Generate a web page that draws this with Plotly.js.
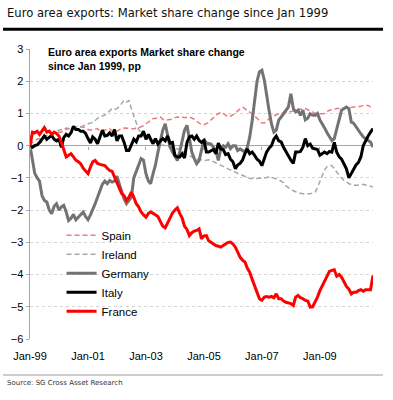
<!DOCTYPE html>
<html>
<head>
<meta charset="utf-8">
<script src="https://cdn.plot.ly/plotly-3.0.1.min.js"></script>
<style>html,body{margin:0;padding:0;background:#fff;}#chart{width:393px;height:400px;}</style>
</head>
<body>
<div id="chart"></div>
<script>
// Monthly observations, Jan 1999 .. Nov 2010 (percentage points)
const startYear = 1999;
const nMonths = 143;
const seriesNames = ["Spain", "Ireland", "Germany", "Italy", "France"];
const tickLabels = ["Jan-99", "Jan-01", "Jan-03", "Jan-05", "Jan-07", "Jan-09"];
const tickDates = ["1999-01-01", "2001-01-01", "2003-01-01", "2005-01-01", "2007-01-01", "2009-01-01"];

const spain = [
  0, 0.1, 0.15, 0.2, 0.22, 0.27, 0.3, 0.32, 0.35, 0.38, 0.4, 0.42,
  0.42, 0.42, 0.5, 0.55, 0.53, 0.55, 0.58, 0.58, 0.6, 0.58, 0.58, 0.55,
  0.5, 0.48, 0.5, 0.52, 0.53, 0.45, 0.45, 0.48, 0.5, 0.53, 0.45, 0.42,
  0.45, 0.5, 0.53, 0.55, 0.55, 0.53, 0.53, 0.52, 0.55, 0.55, 0.58, 0.62,
  0.68, 0.73, 0.78, 0.84, 0.84, 0.88, 0.89, 0.82, 0.79, 0.8, 0.8, 0.82,
  0.87, 0.89, 0.88, 0.89, 0.87, 0.88, 0.89, 0.86, 0.82, 0.75, 0.7, 0.66,
  0.65, 0.68, 0.72, 0.8, 0.89, 0.95, 0.99, 1.04, 1.0, 0.94, 0.89, 0.92,
  0.95, 1.0, 1.08, 1.15, 1.2, 1.15, 1.08, 1.04, 0.99, 0.92, 0.85, 0.79,
  0.7, 0.7, 0.75, 0.84, 0.88, 0.94, 0.96, 0.99, 1.0, 1.0, 1.02, 1.05,
  1.05, 1.08, 1.1, 1.12, 1.15, 1.15, 1.15, 1.12, 1.1, 1.05, 1.0, 0.99,
  0.98, 0.99, 1.0, 1.05, 1.1, 1.12, 1.14, 1.15, 1.15, 1.15, 1.15, 1.17,
  1.18, 1.2, 1.2, 1.2, 1.2, 1.22, 1.25, 1.25, 1.25, 1.2, 1.15
];
const ireland = [
  0, 0.0, 0.02, 0.05, 0.08, 0.1, 0.12, 0.16, 0.25, 0.32, 0.4, 0.45,
  0.48, 0.5, 0.48, 0.5, 0.52, 0.55, 0.55, 0.58, 0.6, 0.58, 0.62, 0.65,
  0.68, 0.7, 0.72, 0.78, 0.85, 0.89, 0.92, 0.95, 1.02, 1.1, 1.15, 1.12,
  1.15, 1.22, 1.3, 1.41, 1.35, 1.4, 1.15, 0.95, 0.7, 0.5, 0.4, 0.3,
  0.22, 0.25, 0.2, 0.22, 0.15, 0.05, 0.0, 0.02, 0.0, -0.02, -0.05, -0.05,
  -0.08, -0.1, -0.1, -0.15, -0.22, -0.28, -0.3, -0.35, -0.38, -0.42, -0.42, -0.45,
  -0.46, -0.45, -0.44, -0.46, -0.5, -0.52, -0.56, -0.6, -0.66, -0.68, -0.72, -0.75,
  -0.8, -0.82, -0.86, -0.9, -0.92, -0.96, -1.0, -1.02, -1.02, -1.0, -1.02, -1.0,
  -1.0, -1.0, -0.98, -0.97, -0.98, -1.0, -1.02, -1.06, -1.1, -1.15, -1.25, -1.3,
  -1.36, -1.4, -1.43, -1.46, -1.48, -1.49, -1.5, -1.49, -1.49, -1.48, -1.45, -1.3,
  -1.1, -0.9, -0.75, -0.65, -0.61, -0.62, -0.72, -0.85, -0.92, -1.0, -1.08, -1.12,
  -1.18, -1.2, -1.23, -1.23, -1.23, -1.22, -1.2, -1.22, -1.23, -1.25, -1.28
];
const germany = [
  0, -0.5, -0.85, -1.0, -1.1, -1.55, -1.7, -1.75, -2.0, -2.11, -1.88, -1.8,
  -2.0, -1.9, -1.85, -2.06, -2.32, -2.25, -2.13, -2.3, -2.22, -2.15, -2.06, -2.2,
  -2.3, -2.15, -2.0, -1.8, -1.6, -1.4, -1.2, -1.1, -1.18, -1.08, -1.13, -1.1,
  -0.95, -1.2, -1.45, -1.65, -1.8, -1.7, -1.6, -1.0, -0.8, -0.6, -0.4, -0.45,
  -0.87, -1.1, -1.18, -0.87, -0.6, -0.2, 0.1, 0.48, 0.68, 0.27, -0.04, -0.2,
  -0.35, -0.46, -0.2, 0.2, 0.48, 0.63, 0.16, -0.2, -0.4, -0.56, -0.46, -0.1,
  0.2, 0.08, 0.06, 0.05, -0.05, -0.15, -0.46, -0.1, 0.0, -0.05, 0.06, -0.09,
  0.0, 0.0, -0.15, -0.1, -0.15, -0.2, -0.05, 0.27, 0.79, 1.41, 2.0, 2.29,
  2.34, 2.03, 1.51, 1.1, 0.68, 0.42, 0.48, 0.79, 0.89, 1.0, 1.1, 1.2,
  1.61, 1.15, 1.05, 1.1, 0.94, 1.1, 0.8, 0.85, 0.99, 0.95, 0.94, 1.0,
  0.8, 0.68, 0.55, 0.4, 0.27, 0.16, 0.22, 0.5, 0.85, 1.1, 1.15, 1.2,
  1.15, 0.73, 0.7, 0.58, 0.45, 0.37, 0.27, 0.2, 0.16, 0.11, -0.04
];
const italy = [
  0, -0.05, 0.0, 0.02, 0.1, 0.22, 0.3, 0.2, 0.27, 0.32, 0.2, 0.15,
  0.2, -0.05, 0.25, 0.35, 0.3, 0.4, 0.6, 0.5, 0.5, 0.45, 0.45, 0.38,
  0.22, 0.08, 0.27, 0.2, 0.06, 0.3, 0.48, 0.3, 0.32, 0.4, 0.3, 0.5,
  0.15, 0.3, 0.3, 0.1, -0.15, -0.15, 0.0, 0.2, 0.12, 0.3, 0.3, 0.45,
  0.2, 0.35, 0.2, 0.06, 0.22, 0.05, 0.15, 0.22, 0.15, 0.3, 0.08, 0.1,
  -0.3, -0.35, -0.35, -0.25, -0.38, 0.1, 0.27, 0.3, 0.2, 0.3, 0.16, 0.1,
  0.16, -0.2, -0.2, -0.15, -0.12, -0.25, 0.08, -0.1, -0.12, -0.28, -0.25, -0.42,
  -0.5, -0.72, -0.6, -0.55, -0.45, -0.25, -0.1, -0.25, -0.2, -0.3, -0.42, -0.48,
  -0.62, -0.4, -0.2, -0.08, 0.0, 0.2, 0.3, 0.15, 0.12, -0.05, -0.2, -0.3,
  -0.45, -0.55, -0.2, -0.2, -0.18, -0.05, 0.22, 0.0, 0.05, -0.08, -0.1, -0.12,
  -0.3, -0.25, -0.2, -0.25, -0.18, -0.2, 0.1, -0.2, -0.35, -0.42, -0.58, -0.72,
  -1.0, -0.85, -0.72, -0.6, -0.52, -0.35, 0.0, 0.16, 0.3, 0.42, 0.53
];
const france = [
  0, 0.42, 0.4, 0.45, 0.35, 0.45, 0.56, 0.42, 0.45, 0.35, 0.42, 0.38,
  0.3, 0.1, -0.1, -0.35, -0.3, -0.25, -0.35, -0.45, -0.5, -0.56, -0.7, -0.8,
  -0.87, -0.66, -0.5, -0.46, -0.55, -0.58, -0.6, -0.62, -0.7, -0.77, -0.8, -0.97,
  -1.18, -1.3, -1.49, -1.55, -1.7, -1.6, -1.44, -1.6, -1.8, -1.9, -2.06, -2.15,
  -2.22, -2.1, -2.06, -2.1, -2.15, -2.2, -2.35, -2.5, -2.55, -2.4, -2.2, -2.09,
  -2.0, -1.93, -2.1, -2.25, -2.5, -2.6, -2.79, -2.7, -2.65, -2.63, -2.58, -2.89,
  -2.8, -2.79, -2.95, -3.0, -3.04, -3.1, -3.12, -3.15, -3.1, -3.04, -3.0, -2.99,
  -3.05, -3.15, -3.3, -3.46, -3.55, -3.61, -3.8, -3.93, -4.15, -4.34, -4.5, -4.75,
  -4.8, -4.7, -4.68, -4.7, -4.68, -4.72, -4.6, -4.75, -4.75, -4.82, -4.86, -4.88,
  -4.9, -4.96, -4.7, -4.65, -4.72, -4.75, -4.8, -4.82, -5.01, -5.0, -4.85, -4.7,
  -4.5, -4.35, -4.2, -4.08, -3.9, -3.87, -3.85, -4.05, -4.0, -4.08, -4.25, -4.37,
  -4.45, -4.6, -4.55, -4.55, -4.5, -4.47, -4.52, -4.47, -4.47, -4.47, -4.03
];

const months = [];
for (let i = 0; i < nMonths; i++) {
  const y = startYear + Math.floor(i / 12);
  const m = (i % 12) + 1;
  months.push(y + "-" + (m < 10 ? "0" + m : m) + "-01");
}

const xRange = ["1999-01-01", "2010-11-01"];
const tickFont = {family: "Liberation Sans, Arial, sans-serif", size: 11, color: "#000"};

const traces = [
  {name: seriesNames[0], x: months, y: spain, type: "scatter", mode: "lines",
   line: {color: "#f07a7a", width: 1.5, dash: "5px,3px"}},
  {name: seriesNames[1], x: months, y: ireland, type: "scatter", mode: "lines",
   line: {color: "#a6a6a6", width: 1.5, dash: "5px,3px"}},
  {name: seriesNames[2], x: months, y: germany, type: "scatter", mode: "lines",
   line: {color: "#737373", width: 3}},
  {name: seriesNames[3], x: months, y: italy, type: "scatter", mode: "lines",
   line: {color: "#000000", width: 3}},
  {name: seriesNames[4], x: months, y: france, type: "scatter", mode: "lines", xaxis: "x2",
   line: {color: "#ff0000", width: 3}}
];

const layout = {
  width: 393, height: 400,
  margin: {l: 30, r: 20, t: 49, b: 61},
  paper_bgcolor: "#fff", plot_bgcolor: "#fff",
  showlegend: true,
  legend: {x: 0.092, y: 0.2266, xanchor: "left", yanchor: "middle",
           bgcolor: "rgba(0,0,0,0)", borderwidth: 0,
           font: {family: "Liberation Sans, Arial, sans-serif", size: 11.5, color: "#000"}},
  xaxis: {type: "date", range: xRange, autorange: false,
          tickvals: tickDates, ticktext: tickLabels,
          ticks: "outside", ticklen: 7, tickcolor: "rgba(0,0,0,0)",
          showgrid: false, zeroline: false, showline: false,
          tickfont: tickFont, anchor: "y"},
  xaxis2: {type: "date", range: xRange, autorange: false, overlaying: "x",
           anchor: "free", position: 0.6667, side: "bottom",
           tickvals: tickDates, ticks: "outside", ticklen: 3, tickcolor: "#a6a6a6", tickwidth: 1,
           showticklabels: false, showgrid: false, zeroline: false, showline: false},
  yaxis: {range: [-6, 3], autorange: false, dtick: 1, tick0: 0,
          showgrid: true, gridcolor: "#d4d4d4", griddash: "dot", gridwidth: 1,
          zeroline: true, zerolinecolor: "#a6a6a6", zerolinewidth: 1.5,
          showline: true, linecolor: "#a6a6a6", linewidth: 1.5,
          ticks: "outside", ticklen: 3, tickcolor: "#a6a6a6",
          tickfont: tickFont},
  shapes: [
    {type: "line", xref: "paper", yref: "paper", x0: -0.0787, x1: 1.029, y0: 1.068, y1: 1.068,
     line: {color: "#000", width: 3}},
    {type: "line", xref: "paper", yref: "paper", x0: -0.0787, x1: 1.029, y0: -0.124, y1: -0.124,
     line: {color: "#bdbdbd", width: 1.5}}
  ],
  annotations: [
    {text: "Euro area exports: Market share change since Jan 1999", xref: "paper", yref: "paper",
     x: -0.0729, y: 1.124, xanchor: "left", yanchor: "middle", showarrow: false,
     font: {family: "DejaVu Sans, sans-serif", size: 11.6, color: "#111", weight: 500}},
    {text: "<b>Euro area exports Market share change<br>since Jan 1999, pp</b>", xref: "paper", yref: "paper",
     x: 0.0466, y: 1.016, xanchor: "left", yanchor: "top", align: "left", showarrow: false,
     font: {family: "Liberation Sans, Arial, sans-serif", size: 10.5, color: "#000"}},
    {text: "Source: SG Cross Asset Research", xref: "paper", yref: "paper",
     x: -0.0729, y: -0.1534, xanchor: "left", yanchor: "middle", showarrow: false,
     font: {family: "DejaVu Sans, sans-serif", size: 7, color: "#333"}}
  ]
};

Plotly.newPlot("chart", traces, layout, {staticPlot: true, displayModeBar: false});
</script>
</body>
</html>
